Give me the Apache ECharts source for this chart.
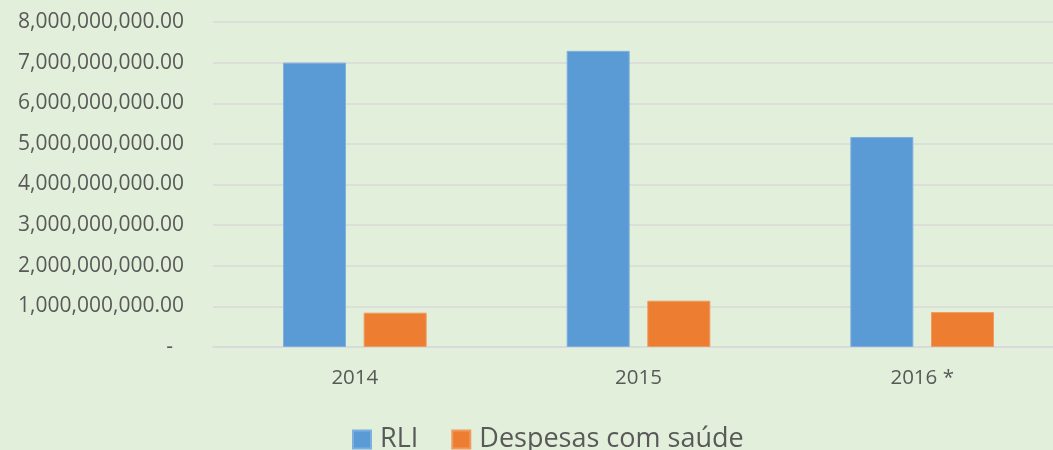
<!DOCTYPE html>
<html>
<head>
<meta charset="utf-8">
<script src="https://cdn.jsdelivr.net/npm/echarts@6/dist/echarts.min.js"></script>
<style>
  html, body { margin: 0; padding: 0; background: #E2EFDA; overflow: hidden; }
  /* plot area runs slightly past the right edge of the window, as in the original */
  #chart { width: 1064px; height: 450px; }
</style>
</head>
<body>
<div id="chart"></div>
<script>
const years = ["2014", "2015", "2016 *"];
const rli = [7000000000, 7290000000, 5170000000];
const despesasSaude = [845000000, 1140000000, 860000000];

function fmtValue(v) {
  // accounting style: zero shown as a dash, padded a little from the right
  if (v === 0) return "-  ";
  return v.toLocaleString("en-US", { minimumFractionDigits: 2, maximumFractionDigits: 2 });
}

const chart = echarts.init(document.getElementById("chart"));

const option = {
  backgroundColor: "#E2EFDA",
  animation: false,
  textStyle: { fontFamily: "Open Sans" },
  grid: {
    left: 213,
    top: 22,
    right: 0,
    bottom: 103
  },
  legend: {
    bottom: -8,
    left: 347,
    itemWidth: 18,
    itemHeight: 18,
    itemGap: 33,
    icon: "rect",
    textStyle: { color: "#595959", fontSize: 27, padding: [0, 0, 0, 4] },
    data: ["RLI", "Despesas com saúde"]
  },
  xAxis: {
    type: "category",
    data: years,
    axisTick: { show: false },
    axisLine: { lineStyle: { color: "#D9D9D9", width: 1.5 } },
    axisLabel: { color: "#595959", fontSize: 20.5, margin: 21 }
  },
  yAxis: {
    type: "value",
    min: 0,
    max: 8000000000,
    interval: 1000000000,
    axisLine: { show: false },
    axisTick: { show: false },
    axisLabel: {
      color: "#595959",
      fontSize: 21,
      margin: 29,
      formatter: fmtValue
    },
    splitLine: { lineStyle: { color: "#D9D9D9", width: 1.5 } }
  },
  series: [
    {
      name: "RLI",
      type: "bar",
      barWidth: 63,
      barGap: "28%",
      itemStyle: { color: "#5B9BD5", borderColor: "#7EB0DE", borderWidth: 1 },
      data: rli
    },
    {
      name: "Despesas com saúde",
      type: "bar",
      barWidth: 63,
      itemStyle: { color: "#ED7D31", borderColor: "#F09A60", borderWidth: 1 },
      data: despesasSaude
    }
  ]
};

chart.setOption(option);
</script>
</body>
</html>
